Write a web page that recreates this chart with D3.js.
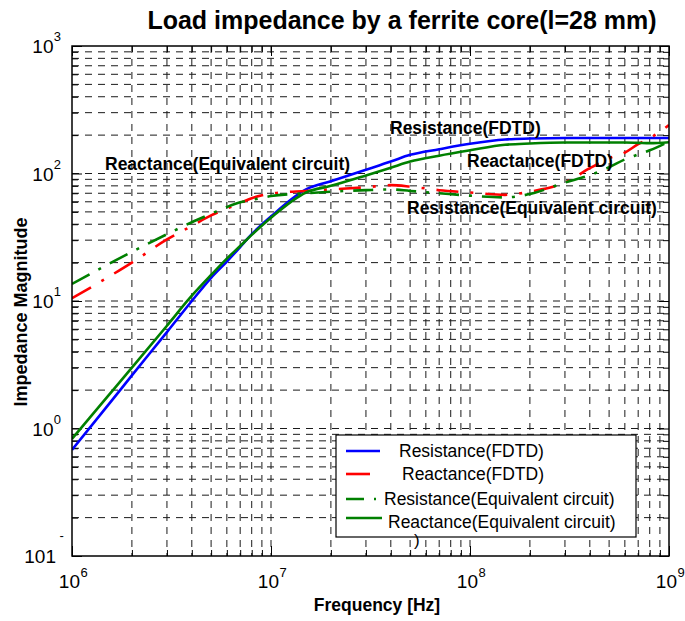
<!DOCTYPE html>
<html>
<head>
<meta charset="utf-8">
<script src="https://cdn.jsdelivr.net/npm/d3@7"></script>
<style>
  body { margin: 0; background: #fff; }
  text { font-family: "Liberation Sans", Arial, sans-serif; fill: #000; }
</style>
</head>
<body>
<div id="chart"></div>
<script>
// frequencies (Hz)
var freqs = [1e6, 1.5e6, 2e6, 3e6, 4e6, 5e6, 6e6, 7e6, 8e6, 1e7, 1.5e7, 2e7, 3e7, 4e7, 5e7, 7e7,
             1e8, 1.5e8, 2e8, 3e8, 4e8, 5e8, 6e8, 7e8, 8e8, 1e9];

var resFdtd = [0.68, 1.49, 2.61, 5.7, 10.0, 15.2, 20.4, 26.5, 33.4, 46, 75, 87, 107, 124, 140, 155,
               171, 185, 188, 190, 190, 190, 190, 190, 190, 190];
var reaFdtd = [10.5, 15.2, 20, 30.4, 38.8, 46.9, 53, 58.7, 64, 69.6, 73, 75, 78, 81, 79, 74,
               71, 68, 72, 85, 110, 132, 146, 170, 189, 240];
var resEq   = [13.6, 19.2, 24.3, 33.4, 41.5, 48.3, 54.6, 59.4, 62, 66.5, 70, 72, 74, 75, 73, 70,
               67, 65, 69, 85, 97, 112, 129, 141, 152, 178];
var reaEq   = [0.83, 1.76, 3.0, 6.4, 11.0, 16, 21.5, 27, 33, 45, 71, 80, 96.6, 111, 124, 138,
               152, 168, 172, 175, 175, 175, 175, 174, 173, 176];

var seriesNames = ["Resistance(FDTD)", "Reactance(FDTD)", "Resistance(Equivalent circuit)", "Reactance(Equivalent circuit)"];
var seriesColors = ["#0000ff", "#ff0000", "#008000", "#008000"];
var seriesDash = [null, "22,12,3,12", "20,10,3,10", null];

var xTickValues = [1e6, 1e7, 1e8, 1e9];
var xTickExps = ["6", "7", "8", "9"];
var yTickValues = [1e3, 1e2, 1e1, 1e0];
var yTickExps = ["3", "2", "1", "0"];

var margin = {top: 46, right: 16, bottom: 65, left: 72},
    width = 685 - margin.left - margin.right,
    height = 621 - margin.top - margin.bottom;

var svg = d3.select("#chart")
    .append("svg")
        .attr("width", 685)
        .attr("height", 621);

var g = svg.append("g")
    .attr("transform", "translate(" + margin.left + "," + margin.top + ")");

var x = d3.scaleLog().domain([1e6, 1e9]).range([0, width]);
var y = d3.scaleLog().domain([0.1, 1000]).range([height, 0]);

g.append("clipPath").attr("id", "clip")
  .append("rect").attr("width", width).attr("height", height);

// dashed grid at every major and minor tick
var xGrid = x.ticks().filter(function(d) { return d > 1e6 && d < 1e9; });
var yGrid = y.ticks().filter(function(d) { return d > 0.1 && d < 1000; });

g.append("g").selectAll("line")
    .data(xGrid)
  .enter().append("line")
    .attr("x1", function(d) { return x(d); })
    .attr("x2", function(d) { return x(d); })
    .attr("y1", 0).attr("y2", height)
    .attr("stroke", "#1a1a1a").attr("stroke-width", 1)
    .attr("stroke-dasharray", "7,6");

g.append("g").selectAll("line")
    .data(yGrid)
  .enter().append("line")
    .attr("y1", function(d) { return y(d); })
    .attr("y2", function(d) { return y(d); })
    .attr("x1", 0).attr("x2", width)
    .attr("stroke", "#1a1a1a").attr("stroke-width", 1)
    .attr("stroke-dasharray", "7,6");

// inside ticks on all sides
function isMajor(d) { return Math.abs(Math.log10(d) - Math.round(Math.log10(d))) < 1e-6; }

[["bottom", d3.axisBottom(x), height, 1], ["top", d3.axisTop(x), 0, -1]].forEach(function(a) {
  var ax = g.append("g")
      .attr("transform", "translate(0," + a[2] + ")")
      .call(a[1].tickSize(0).tickFormat(""));
  ax.select(".domain").remove();
  ax.selectAll(".tick").append("line")
      .attr("y2", function(d) { return a[3] * -(isMajor(d) ? 10 : 6); })
      .attr("stroke", "#000");
});
[["left", d3.axisLeft(y), 0, 1], ["right", d3.axisRight(y), width, -1]].forEach(function(a) {
  var ax = g.append("g")
      .attr("transform", "translate(" + a[2] + ",0)")
      .call(a[1].tickSize(0).tickFormat(""));
  ax.select(".domain").remove();
  ax.selectAll(".tick").append("line")
      .attr("x2", function(d) { return a[3] * (isMajor(d) ? 10 : 6); })
      .attr("stroke", "#000");
});

// curves
var line = d3.line()
    .x(function(d) { return x(d[0]); })
    .y(function(d) { return y(d[1]); })
    .curve(d3.curveMonotoneX);

[resFdtd, reaFdtd, resEq, reaEq].forEach(function(vals, i) {
  g.append("path")
    .attr("class", "curve")
    .datum(freqs.map(function(f, j) { return [f, vals[j]]; }))
    .attr("clip-path", "url(#clip)")
    .attr("fill", "none")
    .attr("stroke", seriesColors[i])
    .attr("stroke-width", 2.6)
    .attr("stroke-dasharray", seriesDash[i]);
});
g.selectAll("path.curve").attr("d", line);

// frame
g.append("rect")
    .attr("width", width).attr("height", height)
    .attr("fill", "none").attr("stroke", "#000").attr("stroke-width", 1.5);

// tick labels  10^n
xTickValues.forEach(function(v, i) {
  var tx = margin.left + x(v);
  svg.append("text").attr("x", tx + 8).attr("y", 588)
    .attr("text-anchor", "end").style("font-size", "19px").text("10");
  svg.append("text").attr("x", tx + 8.5).attr("y", 577)
    .style("font-size", "13px").text(xTickExps[i]);
});
yTickValues.forEach(function(v, i) {
  var ty = margin.top + y(v);
  svg.append("text").attr("x", 53.5).attr("y", ty + 7)
    .attr("text-anchor", "end").style("font-size", "19px").text("10");
  svg.append("text").attr("x", 53.8).attr("y", ty - 5)
    .style("font-size", "13px").text(yTickExps[i]);
});
// the 10^-1 label as it appears in the original
svg.append("text").attr("x", 56).attr("y", margin.top + y(0.1) + 7)
  .attr("text-anchor", "end").style("font-size", "19px").text("101");
svg.append("text").attr("x", 59.5).attr("y", margin.top + y(0.1) - 16)
  .style("font-size", "13px").text("-");

// annotations
var notes = [
  ["Resistance(FDTD)", 390, 134],
  ["Reactance(FDTD)", 467, 167],
  ["Resistance(Equivalent circuit)", 407, 214],
  ["Reactance(Equivalent circuit)", 105, 170]
];
notes.forEach(function(n) {
  svg.append("text").attr("x", n[1]).attr("y", n[2])
    .style("font-size", "17.5px").style("font-weight", "bold").text(n[0]);
});

// legend
var lg = svg.append("g");
lg.append("rect").attr("x", 336).attr("y", 435).attr("width", 300).attr("height", 102)
  .attr("fill", "#fff").attr("stroke", "#000").attr("stroke-width", 1.2);
var legY = [451, 474, 499, 518];
var legLen = [34, 24, 30, 36];
var legTextX = [399, 402, 384, 388];
var legTextY = [457, 480, 505, 528];
seriesNames.forEach(function(name, i) {
  lg.append("line")
    .attr("x1", 346).attr("x2", 346 + legLen[i])
    .attr("y1", legY[i]).attr("y2", legY[i])
    .attr("stroke", seriesColors[i]).attr("stroke-width", 2.6)
    .attr("stroke-dasharray", i === 2 ? "18,10,3,10" : null);
  lg.append("text").attr("x", legTextX[i]).attr("y", legTextY[i])
    .style("font-size", "17.5px").text(name);
});
svg.append("text").attr("x", 414).attr("y", 546).style("font-size", "17px").text(")");

// titles
svg.append("text").attr("x", 402).attr("y", 29).attr("text-anchor", "middle")
  .style("font-size", "25px").style("font-weight", "bold")
  .text("Load impedance by a ferrite core(l=28 mm)");
svg.append("text").attr("x", 377).attr("y", 611).attr("text-anchor", "middle")
  .style("font-size", "17.5px").style("font-weight", "bold").text("Frequency [Hz]");
svg.append("text").attr("transform", "translate(27,312) rotate(-90)")
  .attr("text-anchor", "middle")
  .style("font-size", "18px").style("font-weight", "bold").text("Impedance Magnitude");
</script>
</body>
</html>
